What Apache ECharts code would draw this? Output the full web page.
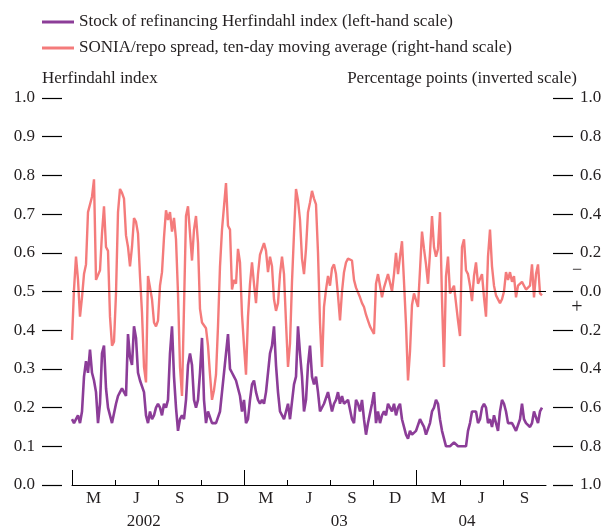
<!DOCTYPE html>
<html><head><meta charset="utf-8">
<script src="https://cdn.jsdelivr.net/npm/echarts@6/dist/echarts.min.js"></script>
<style>html,body{margin:0;padding:0;background:#fff}#c{width:605px;height:527px}</style>
</head><body><div id="c"></div>
<script>
// Tick labels
const quarterLabels = ['M','J','S','D','M','J','S','D','M','J','S'];
const yearLabels = ['2002','03','04'];

// Stock of refinancing Herfindahl index (left-hand scale), sampled roughly every 4 days from March 2002
const herfindahl = [
0.17,0.16,0.17,0.18,0.16,0.19,0.28,0.32,0.29,0.35,
0.29,0.27,0.24,0.16,0.21,0.34,0.36,0.25,0.20,0.20,
0.16,0.16,0.21,0.23,0.24,0.25,0.24,0.23,0.39,0.33,
0.31,0.41,0.38,0.29,0.27,0.27,0.24,0.18,0.16,0.19,
0.17,0.18,0.20,0.21,0.20,0.18,0.21,0.20,0.22,0.34,
0.41,0.28,0.20,0.14,0.17,0.18,0.17,0.22,0.31,
0.34,0.31,0.22,0.20,0.22,0.29,0.38,0.22,0.16,0.19,
0.19,0.16,0.16,0.16,0.16,0.19,0.24,0.29,0.29,0.39,
0.30,0.29,0.28,0.27,0.25,0.23,0.19,0.22,0.16,0.17,
0.22,0.26,0.27,0.24,0.22,0.21,0.22,0.21,0.24,0.29,
0.34,0.36,0.41,0.31,0.24,0.19,0.19,0.17,0.17,0.21,
0.17,0.17,0.26,0.28,0.41,0.34,0.28,0.19,0.22,0.31,
0.36,0.28,0.26,0.28,0.24,0.19,0.19,0.21,0.21,0.24,
0.24,0.19,0.21,0.22,0.24,0.21,0.23,0.21,0.21,0.22,
0.22,0.17,0.16,0.22,0.21,0.19,0.22,0.17,0.13,0.16,
0.16,0.21,0.24,0.16,0.19,0.16,0.18,0.19,0.18,0.21,
0.20,0.19,0.21,0.18,0.20,0.21,0.17,0.17,0.13,0.12,
0.14,0.13,0.13,0.14,0.14,0.17,0.16,0.15,0.13,0.13,
0.16,0.19,0.20,0.22,0.21,0.17,0.14,0.12,0.10,0.10,
0.10,0.10,0.11,0.11,0.10,0.10,0.10,0.10,0.10,0.14,
0.16,0.19,0.19,0.19,0.16,0.17,0.20,0.21,0.20,0.16,
0.17,0.15,0.18,0.16,0.14,0.19,0.22,0.21,0.19,0.16,
0.16,0.16,0.15,0.14,0.14,0.17,0.21,0.17,0.16,0.16,
0.15,0.16,0.19,0.19,0.16,0.19,0.20
];

// SONIA/repo spread, ten-day moving average, percentage points (right-hand scale, inverted)
const spread = [
0.25,-0.01,-0.18,-0.06,0.13,0.03,-0.09,-0.14,-0.41,-0.42,
-0.49,-0.58,-0.06,-0.05,-0.11,-0.30,-0.44,-0.23,-0.21,0.13,
0.28,0.26,0.01,-0.41,-0.53,-0.51,-0.48,-0.29,-0.23,-0.13,
-0.23,-0.38,-0.36,-0.30,-0.08,0.11,0.39,0.47,-0.08,-0.07,
0.04,0.16,0.18,0.15,-0.03,-0.10,-0.28,-0.42,-0.37,-0.41,
-0.31,-0.38,-0.27,0.01,0.39,0.54,0.08,-0.39,-0.44,
-0.30,-0.16,-0.32,-0.39,-0.25,0.09,0.16,0.16,0.19,0.28,
0.43,0.56,0.51,0.43,0.18,-0.13,-0.32,-0.44,-0.56,-0.34,
-0.32,-0.01,-0.06,-0.04,-0.22,-0.15,0.12,0.28,0.43,0.13,
-0.04,-0.15,-0.04,0.06,-0.09,-0.19,-0.22,-0.25,-0.21,-0.10,
-0.18,-0.13,0.04,0.10,0.06,-0.09,-0.18,-0.09,0.16,0.39,
0.27,-0.05,-0.30,-0.53,-0.47,-0.37,-0.17,-0.09,-0.22,-0.41,
-0.46,-0.52,-0.48,-0.45,-0.20,0.16,0.39,0.08,-0.01,-0.08,
-0.03,-0.12,-0.14,-0.09,0.02,0.15,0.00,-0.10,-0.15,-0.17,
-0.17,-0.16,-0.06,-0.02,-0.01,0.03,0.06,0.08,0.12,0.15,
0.18,0.20,0.22,-0.04,-0.09,-0.03,0.03,-0.02,-0.02,-0.09,
-0.10,0.00,-0.09,-0.20,-0.09,-0.18,-0.26,-0.05,0.17,0.46,
0.31,0.07,0.01,0.01,0.08,-0.11,-0.31,-0.22,-0.14,-0.04,
-0.20,-0.39,-0.23,-0.18,-0.22,-0.41,0.04,0.39,-0.08,-0.18,
0.01,0.02,-0.03,-0.03,0.15,0.23,-0.23,-0.27,-0.11,-0.09,
-0.03,0.05,-0.08,-0.15,-0.04,-0.04,-0.09,0.03,0.13,-0.18,
-0.32,-0.13,-0.03,0.02,0.03,0.06,0.04,0.00,-0.10,-0.06,
-0.10,-0.05,-0.08,0.03,-0.03,-0.02,-0.05,-0.03,-0.01,-0.02,
-0.03,-0.14,0.03,-0.09,-0.14,0.01,0.02
];

// x axis: months since 1 March 2002 (33 months to end Nov 2004); samples on a regular ~4-day grid
const AXIS_MONTHS = 33;
const sampleMonths = herfindahl.map((_, i) => i * AXIS_MONTHS / 237);
const quarterCentres = quarterLabels.map((_, i) => 1.5 + 3 * i);
const quarterTicks = [3,6,9,15,18,21,27,30];
const yearTicks = [0,12,24];
const yearLabelPos = [5,18.6,27.5];

const FONT = 'Liberation Serif';
const TXT = '#231f20';
const PURPLE = '#8c3d98';
const PINK = '#f47b7b';

const chart = echarts.init(document.getElementById('c'), null, {renderer:'canvas'});
chart.setOption({
  animation:false,
  backgroundColor:'#fff',
  textStyle:{fontFamily:FONT, color:TXT},
  grid:{left:72, right:59, top:98, bottom:42, outerBoundsMode:'none', containLabel:false},
  legend:{
    left:37, top:8, orient:'vertical', itemWidth:32, itemHeight:3, itemGap:8, icon:'rect',
    textStyle:{fontFamily:FONT, fontSize:17, color:TXT, lineHeight:18},
    data:['Stock of refinancing Herfindahl index (left-hand scale)',
          'SONIA/repo spread, ten-day moving average (right-hand scale)']
  },
  xAxis:[{
    type:'value', min:0, max:AXIS_MONTHS, position:'bottom',
    axisLine:{show:true, onZero:false, lineStyle:{color:'#000', width:1}},
    axisTick:{show:true, inside:true, length:5, customValues:quarterTicks, lineStyle:{color:'#000', width:1}},
    axisLabel:{customValues:quarterCentres, formatter:v => quarterLabels[Math.round((v-1.5)/3)],
               margin:5, fontSize:17, color:TXT, fontFamily:FONT},
    splitLine:{show:false}
  },{
    type:'value', min:0, max:AXIS_MONTHS, position:'bottom',
    axisLine:{show:false, onZero:false},
    axisTick:{show:true, inside:true, length:15, customValues:yearTicks, lineStyle:{color:'#000', width:1}},
    axisLabel:{customValues:yearLabelPos, formatter:v => yearLabels[yearLabelPos.indexOf(v)],
               margin:28, fontSize:17, color:TXT, fontFamily:FONT},
    splitLine:{show:false}
  }],
  yAxis:[{
    type:'value', min:0, max:1, interval:0.1, position:'left', offset:10,
    axisLine:{show:false, onZero:false},
    axisTick:{show:true, inside:false, length:20, lineStyle:{color:'#000', width:1.2}},
    axisLabel:{formatter:v => v.toFixed(1), margin:27, fontSize:17, color:TXT, fontFamily:FONT},
    splitLine:{show:false}
  },{
    type:'value', min:-1, max:1, interval:0.2, inverse:true, position:'right', offset:7,
    axisLine:{show:false, onZero:false},
    axisTick:{show:true, inside:false, length:20, lineStyle:{color:'#000', width:1.2}},
    axisLabel:{formatter:v => Math.abs(v).toFixed(1), margin:27, fontSize:17, color:TXT, fontFamily:FONT},
    splitLine:{show:false}
  }],
  graphic:[
    {type:'text', left:42, top:70, style:{text:'Herfindahl index', font:'17px "Liberation Serif"', fill:TXT}},
    {type:'text', right:28, top:70, style:{text:'Percentage points (inverted scale)', font:'17px "Liberation Serif"', fill:TXT}},
    {type:'text', x:577, y:270, style:{text:'\u2212', font:'18px "Liberation Serif"', fill:TXT, align:'center', verticalAlign:'middle'}},
    {type:'text', x:577, y:308, style:{text:'+', font:'20px "Liberation Serif"', fill:TXT, align:'center', verticalAlign:'middle'}}
  ],
  series:[{
    name:'SONIA/repo spread, ten-day moving average (right-hand scale)',
    type:'line', xAxisIndex:0, yAxisIndex:1, showSymbol:false, symbol:'none',
    lineStyle:{color:PINK, width:2.4}, itemStyle:{color:PINK},
    data:spread.map((v,i)=>[sampleMonths[i], v]),
    markLine:{silent:true, symbol:'none', label:{show:false},
      lineStyle:{color:'#000', width:1, type:'solid'}, data:[{yAxis:0}]},
    z:2
  },{
    name:'Stock of refinancing Herfindahl index (left-hand scale)',
    type:'line', xAxisIndex:0, yAxisIndex:0, showSymbol:false, symbol:'none',
    lineStyle:{color:PURPLE, width:2.6}, itemStyle:{color:PURPLE},
    data:herfindahl.map((v,i)=>[sampleMonths[i], v]),
    z:3
  }]
});
</script></body></html>
